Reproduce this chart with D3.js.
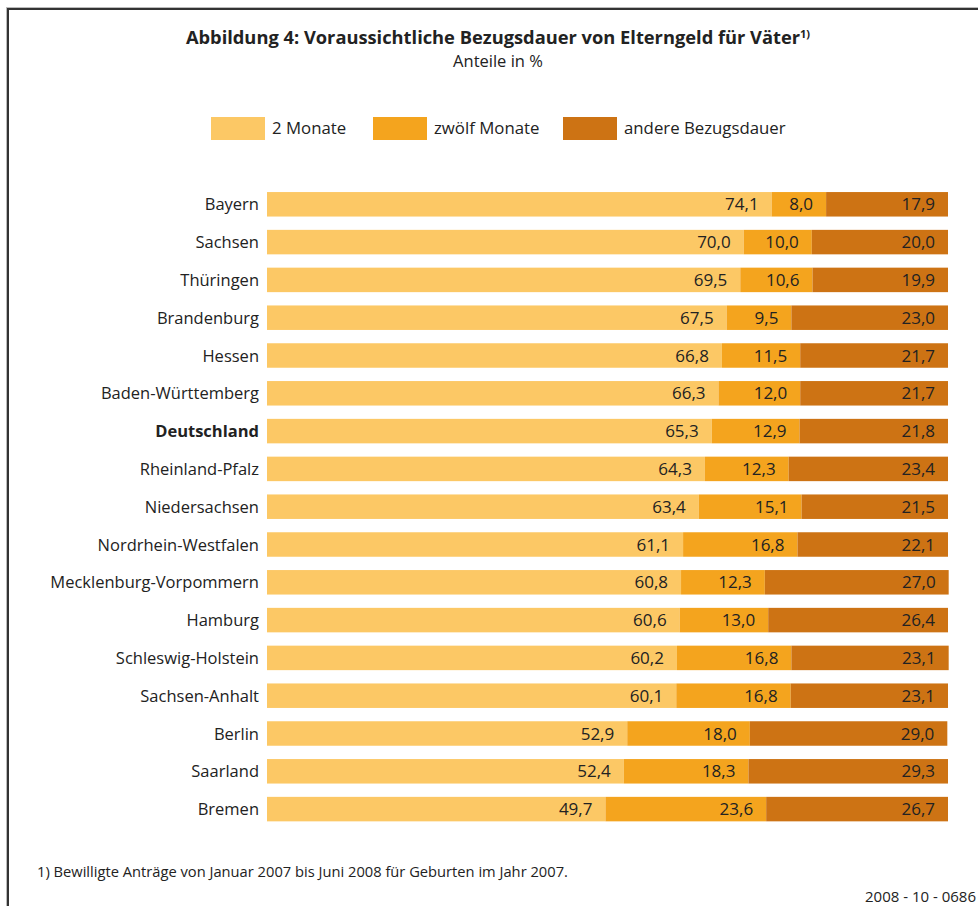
<!doctype html>
<html lang="de">
<head>
<meta charset="utf-8">
<script src="https://d3js.org/d3.v7.min.js"></script>
<title>Bezugsdauer Elterngeld</title>
<style>
  body { margin: 0; background: #fff; }
  svg text { font-family: "Open Sans", "Noto Sans", sans-serif; fill: #222; }
</style>
</head>
<body>
<svg id="chart" width="978" height="906"></svg>
<script>
// Bundeslaender, sortiert nach Anteil "2 Monate"
let laender = ["Bayern", "Sachsen", "Thüringen", "Brandenburg", "Hessen", "Baden-Württemberg",
  "Deutschland", "Rheinland-Pfalz", "Niedersachsen", "Nordrhein-Westfalen", "Mecklenburg-Vorpommern",
  "Hamburg", "Schleswig-Holstein", "Sachsen-Anhalt", "Berlin", "Saarland", "Bremen"];
let zweiMonate = [74.1, 70.0, 69.5, 67.5, 66.8, 66.3, 65.3, 64.3, 63.4, 61.1, 60.8, 60.6, 60.2, 60.1, 52.9, 52.4, 49.7];
let zwoelfMonate = [8.0, 10.0, 10.6, 9.5, 11.5, 12.0, 12.9, 12.3, 15.1, 16.8, 12.3, 13.0, 16.8, 16.8, 18.0, 18.3, 23.6];
let andere = [17.9, 20.0, 19.9, 23.0, 21.7, 21.7, 21.8, 23.4, 21.5, 22.1, 27.0, 26.4, 23.1, 23.1, 29.0, 29.3, 26.7];
let serien = ["2 Monate", "zwölf Monate", "andere Bezugsdauer"];
let farben = ["#fcc865", "#f4a41e", "#cd7314"];

let svg = d3.select("#chart");
let width = 978, height = 906;

let de = d3.formatLocale({ decimal: ",", thousands: ".", grouping: [3], currency: ["", " €"] });
let fmt = de.format(".1f");

let data = laender.map((l, i) => ({ land: l, "2 Monate": zweiMonate[i], "zwölf Monate": zwoelfMonate[i], "andere Bezugsdauer": andere[i] }));

// Rahmen (oben und links)
svg.append("line").attr("x1", 7).attr("x2", width).attr("y1", 7.5).attr("y2", 7.5).attr("stroke", "#bbb").attr("stroke-width", 1);
svg.append("line").attr("x1", 6.5).attr("x2", 6.5).attr("y1", 7).attr("y2", height).attr("stroke", "#bbb").attr("stroke-width", 1);
svg.append("line").attr("x1", 8).attr("x2", width).attr("y1", 9).attr("y2", 9).attr("stroke", "#333").attr("stroke-width", 2);
svg.append("line").attr("x1", 8).attr("x2", 8).attr("y1", 8).attr("y2", height).attr("stroke", "#333").attr("stroke-width", 2);

// Titel
let title = svg.append("text").attr("x", 498).attr("y", 44).attr("text-anchor", "middle")
  .attr("font-size", 18.3).attr("font-weight", "bold");
title.append("tspan").text("Abbildung 4: Voraussichtliche Bezugsdauer von Elterngeld für Väter");
title.append("tspan").attr("dy", -6).attr("font-size", 11).text("1)");
svg.append("text").attr("x", 498).attr("y", 67).attr("text-anchor", "middle")
  .attr("font-size", 16.5).text("Anteile in %");

// Legende
let legX = [211, 373, 563];
let leg = svg.selectAll("g.leg").data(serien).join("g").attr("class", "leg")
  .attr("transform", (d, i) => `translate(${legX[i]},117)`);
leg.append("rect").attr("width", 54).attr("height", 23).attr("fill", (d, i) => farben[i]);
leg.append("text").attr("x", 61).attr("y", 17).attr("font-size", 16.8).text(d => d);

// Skalen
let x = d3.scaleLinear().domain([0, 100]).range([267, 948]);
let y = d3.scaleBand().domain(laender).range([185.4, 828]).paddingInner(0.352).paddingOuter(0.176);
let color = d3.scaleOrdinal().domain(serien).range(farben);

let stack = d3.stack().keys(serien)(data);

let layer = svg.selectAll("g.layer").data(stack).join("g").attr("class", "layer")
  .attr("fill", d => color(d.key));
layer.selectAll("rect").data(d => d).join("rect")
  .attr("x", d => x(d[0]))
  .attr("y", d => y(d.data.land))
  .attr("width", d => x(d[1]) - x(d[0]))
  .attr("height", y.bandwidth());

// Werte
let vals = svg.selectAll("g.vals").data(stack).join("g").attr("class", "vals");
vals.selectAll("text").data(d => d.map(s => ({ s: s, key: d.key }))).join("text")
  .attr("x", d => x(d.s[1]) - 13)
  .attr("y", d => y(d.s.data.land) + y.bandwidth() / 2 + 6)
  .attr("text-anchor", "end")
  .attr("font-size", 17)
  .text(d => fmt(d.s.data[d.key]));

// Laender-Beschriftung
svg.selectAll("text.land").data(laender).join("text").attr("class", "land")
  .attr("x", 259)
  .attr("y", d => y(d) + y.bandwidth() / 2 + 6)
  .attr("text-anchor", "end")
  .attr("font-size", 16.5)
  .attr("font-weight", d => d === "Deutschland" ? "bold" : "normal")
  .text(d => d);

// Fussnote und Kennziffer
svg.append("text").attr("x", 37).attr("y", 877).attr("font-size", 14.7)
  .text("1) Bewilligte Anträge von Januar 2007 bis Juni 2008 für Geburten im Jahr 2007.");
svg.append("text").attr("x", 976).attr("y", 902).attr("text-anchor", "end").attr("font-size", 15)
  .text("2008 - 10 - 0686");
</script>
</body>
</html>
